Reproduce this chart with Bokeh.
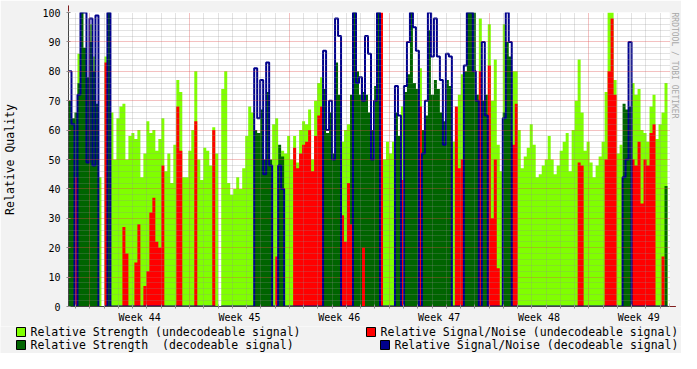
from bokeh.plotting import figure
from bokeh.layouts import column
from bokeh.models import Range1d, FixedTicker, Arrow, NormalHead, Title
from bokeh.core.properties import value
from bokeh.embed import file_html
from bokeh.resources import INLINE

nan = float("nan")

# ---- data: one value per consolidated sample ----
strength_undecodeable = [
    0, 0, 0, 86, 0, 0, 0, 96, 85, 0, 44, 0, 85, 0, 66, 50, 64, 68, 69, 50,
    58, 59, 57, 60, 44, 52, 63, 59, 60, 53, 57, 64, 46, 52, 42, 55, 77, 73, 44, 44,
    53, 60, 80, 50, 43, 54, 53, 48, 61, 52, 0, 74, 80, 42, 38, 40, 44, 40, 47, 58,
    68, 66, 0, 0, 0, 0, 0, 0, 62, 64, 0, 53, 52, 58, 50, 58, 49, 60, 63, 62,
    67, 50, 70, 76, 78, 0, 0, 0, 0, 0, 0, 56, 60, 62, 0, 0, 0, 0, 0, 0,
    0, 0, 0, 0, 82, 50, 56, 52, 56, 0, 0, 68, 0, 0, 0, 0, 0, 81, 0, 0,
    0, 0, 0, 0, 0, 0, 0, 0, 56, 57, 72, 79, 0, 0, 0, 0, 0, 98, 0, 0,
    96, 70, 84, 55, 46, 96, 0, 0, 80, 80, 60, 47, 51, 54, 62, 55, 44, 45, 48, 50,
    58, 50, 45, 48, 53, 56, 59, 46, 60, 70, 84, 66, 53, 56, 49, 44, 48, 51, 56, 73,
    100, 100, 77, 52, 55, 0, 0, 0, 76, 72, 74, 60, 59, 56, 68, 72, 57, 62, 66, 76,
]
strength_decodeable = [
    70, 64, 66, 76, 100, 88, 78, 90, 80, 69, 0, 0, 0, 100, 0, 0, 0, 0, 0, 0,
    0, 0, 0, 0, 0, 0, 0, 0, 0, 0, 0, 0, 0, 0, 0, 0, 0, 0, 0, 0,
    0, 0, 0, 0, 0, 0, 0, 0, 0, 0, 0, 0, 0, 0, 0, 0, 0, 0, 0, 0,
    0, 0, 60, 59, 67, 50, 73, 50, 0, 0, 55, 51, 0, 0, 0, 0, 0, 0, 0, 0,
    0, 0, 0, 0, 0, 74, 59, 66, 52, 83, 72, 0, 0, 0, 72, 100, 80, 72, 73, 72,
    66, 60, 75, 100, 0, 0, 0, 0, 0, 66, 58, 0, 73, 79, 100, 76, 74, 0, 60, 65,
    94, 72, 77, 74, 66, 63, 77, 75, 0, 0, 0, 0, 80, 100, 100, 100, 72, 0, 70, 72,
    0, 0, 0, 0, 0, 66, 90, 85, 0, 0, 0, 0, 0, 0, 0, 0, 0, 0, 0, 0,
    0, 0, 0, 0, 0, 0, 0, 0, 0, 0, 0, 0, 0, 0, 0, 0, 0, 0, 0, 0,
    0, 0, 0, 0, 0, 69, 67, 68, 0, 0, 0, 0, 0, 0, 0, 0, 0, 0, 0, 41,
]
snr_undecodeable = [
    0, 0, 44, 0, 0, 0, 0, 0, 0, 0, 0, 0, 83, 0, 0, 0, 0, 0, 27, 18,
    0, 0, 15, 28, 0, 7, 12, 32, 37, 22, 20, 48, 0, 0, 0, 0, 68, 53, 0, 0,
    0, 0, 63, 0, 0, 0, 0, 0, 60, 0, 0, 0, 0, 0, 0, 0, 0, 0, 0, 0,
    0, 0, 0, 0, 0, 0, 0, 0, 0, 17, 0, 0, 0, 0, 0, 54, 47, 52, 55, 56,
    60, 46, 58, 65, 68, 0, 0, 0, 0, 0, 0, 31, 22, 42, 28, 0, 0, 0, 20, 0,
    0, 0, 0, 0, 100, 0, 0, 0, 0, 0, 0, 43, 0, 0, 0, 0, 0, 68, 0, 0,
    0, 0, 0, 0, 0, 0, 0, 0, 0, 68, 47, 50, 0, 0, 0, 0, 0, 80, 0, 0,
    82, 30, 50, 13, 0, 0, 0, 0, 55, 69, 0, 0, 0, 0, 0, 0, 0, 0, 0, 0,
    0, 0, 0, 0, 0, 0, 0, 0, 0, 0, 49, 48, 0, 0, 0, 0, 0, 0, 0, 50,
    80, 98, 72, 0, 0, 0, 0, 0, 50, 48, 56, 35, 50, 48, 59, 62, 0, 0, 17, 0,
]
snr_decodeable = [
    80, 62, 0, 72, 100, 100, 49, 98, 48, 99, 0, nan, 0, 100, 0, 0, 0, 0, 0, 0,
    0, 0, 0, 0, 0, 0, 0, 0, 0, 0, 0, 0, 0, 0, 0, 0, 0, 0, 0, 0,
    0, 0, 0, 0, 0, 0, 0, 0, 0, 0, nan, 0, 0, 0, 0, 0, 0, 0, 0, 0,
    0, 0, 81, 64, 77, 45, 83, 48, 0, 0, 48, 40, 0, 0, 0, 0, 0, 0, 0, 0,
    0, 0, 0, 0, 0, 87, 60, 70, 50, 98, 92, 0, 0, 0, 0, 100, 76, 78, 70, 92,
    86, 50, 70, 100, 0, 0, 0, 0, 0, 75, 65, 0, 75, 90, 100, 95, 87, 0, 52, 70,
    100, 85, 98, 85, 77, 55, 86, 85, 0, 0, 0, 0, 82, 100, 100, 80, 70, 0, 90, 65,
    0, 0, 0, 0, 0, 64, 100, 90, 0, 0, 0, 0, 0, 0, 0, 0, 0, 0, 0, 0,
    0, 0, 0, 0, 0, 0, 0, 0, 0, 0, 0, 0, 0, 0, 0, 0, 0, 0, 0, 0,
    0, 0, 0, 0, 0, 44, 50, 90, 0, 0, 0, 0, 0, 0, 0, 0, 0, 0, 0, 0,
]
week_labels = ["Week 44", "Week 45", "Week 46", "Week 47", "Week 48", "Week 49"]
y_ticks = [0, 10, 20, 30, 40, 50, 60, 70, 80, 90, 100]
legend_labels = [
    "Relative Strength (undecodeable signal)",
    "Relative Strength \u00a0(decodeable signal)",
    "Relative Signal/Noise (undecodeable signal)",
    "Relative Signal/Noise (decodeable signal)",
]

# ---- time axis (in days) ----
STEP_DAYS = 0.21
FIRST_WEEK_START = 1.49
SPAN_DAYS = 42.14

n = len(strength_undecodeable)
edges = [i * STEP_DAYS for i in range(n + 1)]


def ext(v):
    return list(v) + [v[-1]]


zeros = [0] * (n + 1)
week_starts = [FIRST_WEEK_START + 7 * k for k in range(len(week_labels))]
week_centers = [w + 3.5 for w in week_starts]
all_days = [FIRST_WEEK_START - 1 + d for d in range(44) if FIRST_WEEK_START - 1 + d < SPAN_DAYS]
minor_days = [d for i, d in enumerate(all_days) if (i - 1) % 7 != 0]
y_minor = [v for v in range(2, 100, 2) if v % 10 != 0]

C_LG = "#80FF00"
C_DG = "#006400"
C_RD = "#FF0000"
C_BL = "#00008C"
BACK = "#F2F2F2"
FONT = "DejaVu Sans Mono"

p = figure(width=681, height=326, output_backend="svg", toolbar_location=None,
           x_range=Range1d(0, SPAN_DAYS), y_range=Range1d(0, 100),
           min_border_left=67, min_border_right=12, min_border_top=12, min_border_bottom=20,
           background_fill_color="white", border_fill_color=BACK,
           outline_line_color=None)
p.frame_align = False

p.varea_step(x=edges, y1=zeros, y2=ext(strength_undecodeable), step_mode="after", fill_color=C_LG)
p.varea_step(x=edges, y1=zeros, y2=ext(strength_decodeable), step_mode="after", fill_color=C_DG)
p.varea_step(x=edges, y1=zeros, y2=ext(snr_undecodeable), step_mode="after", fill_color=C_RD)
p.step(x=edges, y=ext(snr_decodeable), mode="after", line_color=C_BL, line_width=2)

# axes
xa = p.xaxis[0]
xa.ticker = FixedTicker(ticks=week_centers, minor_ticks=all_days)
xa.major_label_overrides = {c: lab for c, lab in zip(week_centers, week_labels)}
xa.major_tick_in = 0
xa.major_tick_out = 0
xa.minor_tick_in = 2
xa.minor_tick_out = 2
xa.minor_tick_line_color = "#8F8F8F"
xa.axis_line_color = "#444444"
xa.major_label_text_font = FONT
xa.major_label_text_font_size = "10px"
xa.major_label_text_color = "black"
xa.major_label_standoff = 3

ya = p.yaxis[0]
ya.ticker = FixedTicker(ticks=y_ticks, minor_ticks=[])
ya.major_tick_in = 2
ya.major_tick_out = 2
ya.major_tick_line_color = "#8F8F8F"
ya.axis_line_color = "#444444"
ya.major_label_text_font = FONT
ya.major_label_text_font_size = "10px"
ya.major_label_text_color = "black"
ya.major_label_standoff = 6
ya.axis_label = "Relative Quality"
ya.axis_label_text_font = FONT
ya.axis_label_text_font_size = "11.5px"
ya.axis_label_text_font_style = "normal"
ya.axis_label_text_color = "black"
ya.axis_label_standoff = 22

# grids on top of the data
p.xgrid.ticker = FixedTicker(ticks=week_starts, minor_ticks=minor_days)
p.ygrid.ticker = FixedTicker(ticks=y_ticks, minor_ticks=y_minor)
for g in (p.xgrid, p.ygrid):
    g.level = "guide"
    g.grid_line_color = "#DE4F4F"
    g.grid_line_alpha = 0.7
    g.grid_line_dash = "1 1"
    g.minor_grid_line_color = "#8F8F8F"
    g.minor_grid_line_alpha = 0.5
    g.minor_grid_line_dash = "1 1"

# arrows at the ends of the axes
for xs, ys, xe, ye in [(SPAN_DAYS, 0, SPAN_DAYS + 0.45, 0), (0, 100, 0, 102.4)]:
    p.add_layout(Arrow(end=NormalHead(size=6, fill_color="#801F1F", line_color="#801F1F"),
                       x_start=xs, y_start=ys, x_end=xe, y_end=ye,
                       line_color="#801F1F", line_width=1))

p.add_layout(Title(text="RRDTOOL / TOBI OETIKER", align="left", text_font=FONT,
                   text_font_size="8px", text_font_style="normal", text_color="#A8A8A8",
                   standoff=0), "right")

# ---- legend strip (rrdtool style, below the graph) ----
lf = figure(width=681, height=27, output_backend="svg", toolbar_location=None,
            x_range=Range1d(0, 681), y_range=Range1d(27, 0),
            x_axis_type=None, y_axis_type=None,
            min_border_left=0, min_border_right=0, min_border_top=0, min_border_bottom=0,
            background_fill_color=BACK, border_fill_color=BACK, outline_line_color=None)
lf.frame_align = False
lf.grid.visible = False

sw_left = [16, 16, 366, 380]
sw_top = [1, 14, 1, 14]
colors = [C_LG, C_DG, C_RD, C_BL]
lf.quad(left=sw_left, right=[v + 9 for v in sw_left], top=sw_top, bottom=[v + 9 for v in sw_top],
        fill_color=colors, line_color="black", line_width=1)
lf.text(x=[v + 14 for v in sw_left], y=[v + 4.5 for v in sw_top], text=legend_labels,
        text_font=value(FONT), text_font_size="11.5px", text_color="black",
        text_baseline="middle", text_align="left")

layout = column(p, lf, spacing=0)
open("out.html", "w").write(file_html(layout, INLINE))
